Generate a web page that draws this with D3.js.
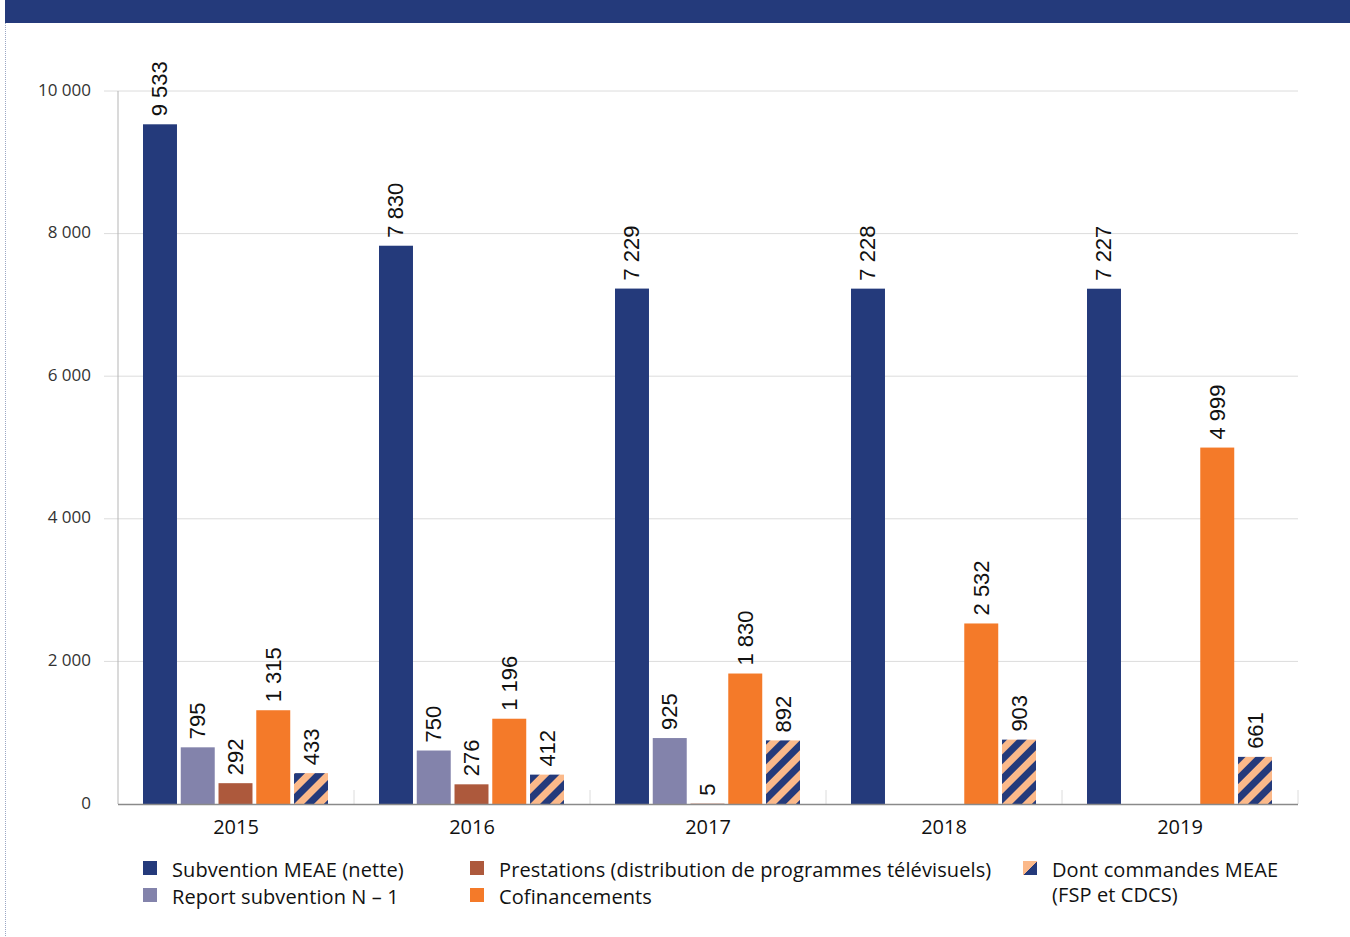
<!DOCTYPE html>
<html>
<head>
<meta charset="utf-8">
<script src="https://cdn.jsdelivr.net/npm/d3@7"></script>
<style>
  body { margin: 0; background: #fff; }
  svg { display: block; }
</style>
</head>
<body>
<div id="chart"></div>
<script>
// données
const years = ['2015', '2016', '2017', '2018', '2019'];
const subvention = [9533, 7830, 7229, 7228, 7227];
const report = [795, 750, 925, null, null];
const prestations = [292, 276, 5, null, null];
const cofinancements = [1315, 1196, 1830, 2532, 4999];
const dontCommandes = [433, 412, 892, 903, 661];
const yTicks = [0, 2000, 4000, 6000, 8000, 10000];

const seriesNames = ['Subvention MEAE (nette)', 'Report subvention N – 1', 'Prestations (distribution de programmes télévisuels)', 'Cofinancements', 'Dont commandes MEAE (FSP et CDCS)'];
const seriesValues = [subvention, report, prestations, cofinancements, dontCommandes];

const navy = '#243a7b';
const colors = [navy, '#8383ab', '#ad593c', '#f47a29', 'url(#hatch)'];

const width = 1350, height = 937;
const margin = { left: 118, right: 52, top: 91, bottom: 133 };
const font = '"Open Sans", sans-serif';

const svg = d3.select('#chart').append('svg')
  .attr('width', width)
  .attr('height', height);

// motif hachuré
const defs = svg.append('defs');
const pat = defs.append('pattern')
  .attr('id', 'hatch')
  .attr('patternUnits', 'userSpaceOnUse')
  .attr('width', 14).attr('height', 14)
  .attr('patternTransform', 'rotate(45)');
pat.append('rect').attr('width', 14).attr('height', 14).attr('fill', '#fbb98a');
pat.append('rect').attr('width', 7).attr('height', 14).attr('fill', navy);

const lg = defs.append('linearGradient').attr('id', 'halfswatch')
  .attr('x1', 0).attr('y1', 0).attr('x2', 1).attr('y2', 1);
lg.append('stop').attr('offset', '50%').attr('stop-color', '#fbb98a');
lg.append('stop').attr('offset', '50%').attr('stop-color', navy);

// bandeau du haut
svg.append('rect').attr('x', 5).attr('y', 0).attr('width', width - 5).attr('height', 23).attr('fill', navy);
svg.append('line').attr('x1', 5.5).attr('x2', 5.5).attr('y1', 23).attr('y2', height)
  .attr('stroke', '#9aa6c4').attr('stroke-dasharray', '1,1');

// échelles
const x = d3.scaleBand().domain(years).range([margin.left, width - margin.right]);
const xInner = d3.scaleBand().domain(d3.range(5)).range([25, x.bandwidth() - 26]).paddingInner(0.1);
const y = d3.scaleLinear().domain([0, 10000]).range([height - margin.bottom, margin.top]);

const fmt = v => d3.format(',')(v).replace(/,/g, ' ');

// grille
svg.append('g').selectAll('line').data(yTicks.slice(1)).enter().append('line')
  .attr('x1', 104).attr('x2', width - margin.right)
  .attr('y1', d => y(d)).attr('y2', d => y(d))
  .attr('stroke', '#dcdcdc');

svg.append('g').selectAll('text').data(yTicks).enter().append('text')
  .attr('x', 91).attr('y', d => y(d) - 2)
  .attr('text-anchor', 'end')
  .attr('dominant-baseline', 'central')
  .style('font-family', font)
  .style('font-size', '17px')
  .attr('fill', '#333')
  .text(d => fmt(d));

// axe vertical
svg.append('line').attr('x1', margin.left).attr('x2', margin.left)
  .attr('y1', y(10000)).attr('y2', y(0)).attr('stroke', '#b5b5b5');

// séparateurs de catégories
svg.append('g').selectAll('line').data(years.slice(1).concat(['end'])).enter().append('line')
  .attr('x1', d => d === 'end' ? width - margin.right : x(d))
  .attr('x2', d => d === 'end' ? width - margin.right : x(d))
  .attr('y1', y(0) - 14).attr('y2', y(0))
  .attr('stroke', '#dcdcdc');

// barres
const groups = svg.append('g').selectAll('g').data(years).enter().append('g')
  .attr('transform', d => `translate(${x(d)},0)`);

groups.each(function(yr, i) {
  const g = d3.select(this);
  seriesValues.forEach((vals, s) => {
    const v = vals[i];
    if (v == null) return;
    const bx = xInner(s);
    g.append('rect')
      .attr('x', bx).attr('width', xInner.bandwidth())
      .attr('y', y(v)).attr('height', y(0) - y(v))
      .attr('fill', colors[s]);
    const cx = bx + xInner.bandwidth() / 2;
    const ty = y(v) - 8;
    g.append('text')
      .attr('transform', `translate(${cx},${ty}) rotate(-90)`)
      .attr('dominant-baseline', 'central')
      .style('font-family', '"Liberation Sans", Arial, sans-serif')
      .style('font-size', '22px')
      .attr('fill', '#111')
      .text(fmt(v));
  });
});

// axe horizontal
svg.append('line').attr('x1', margin.left).attr('x2', width - margin.right)
  .attr('y1', y(0) + 0.5).attr('y2', y(0) + 0.5).attr('stroke', '#8a8a8a').attr('stroke-width', 1.5);

svg.append('g').selectAll('text').data(years).enter().append('text')
  .attr('x', d => x(d) + x.bandwidth() / 2)
  .attr('y', 826)
  .attr('text-anchor', 'middle')
  .attr('dominant-baseline', 'central')
  .style('font-family', font)
  .style('font-size', '20px')
  .attr('fill', '#111')
  .text(d => d);

// légende
const legendPos = [
  { x: 143, y: 869 }, { x: 143, y: 896 }, { x: 470, y: 869 }, { x: 470, y: 896 }, { x: 1023, y: 869 }
];
seriesNames.forEach((name, s) => {
  const p = legendPos[s];
  svg.append('rect').attr('x', p.x).attr('y', p.y - 8).attr('width', 14).attr('height', 14)
    .attr('fill', s === 4 ? 'url(#halfswatch)' : colors[s]);
  const t = svg.append('text')
    .attr('x', p.x + 29).attr('y', p.y)
    .attr('dominant-baseline', 'central')
    .style('font-family', font)
    .style('font-size', '20px')
    .style('letter-spacing', '0.1px')
    .attr('fill', '#111');
  if (s === 4) {
    t.append('tspan').attr('x', p.x + 29).text('Dont commandes MEAE');
    t.append('tspan').attr('x', p.x + 29).attr('dy', 25).text('(FSP et CDCS)');
  } else {
    t.text(name);
  }
});
</script>
</body>
</html>
